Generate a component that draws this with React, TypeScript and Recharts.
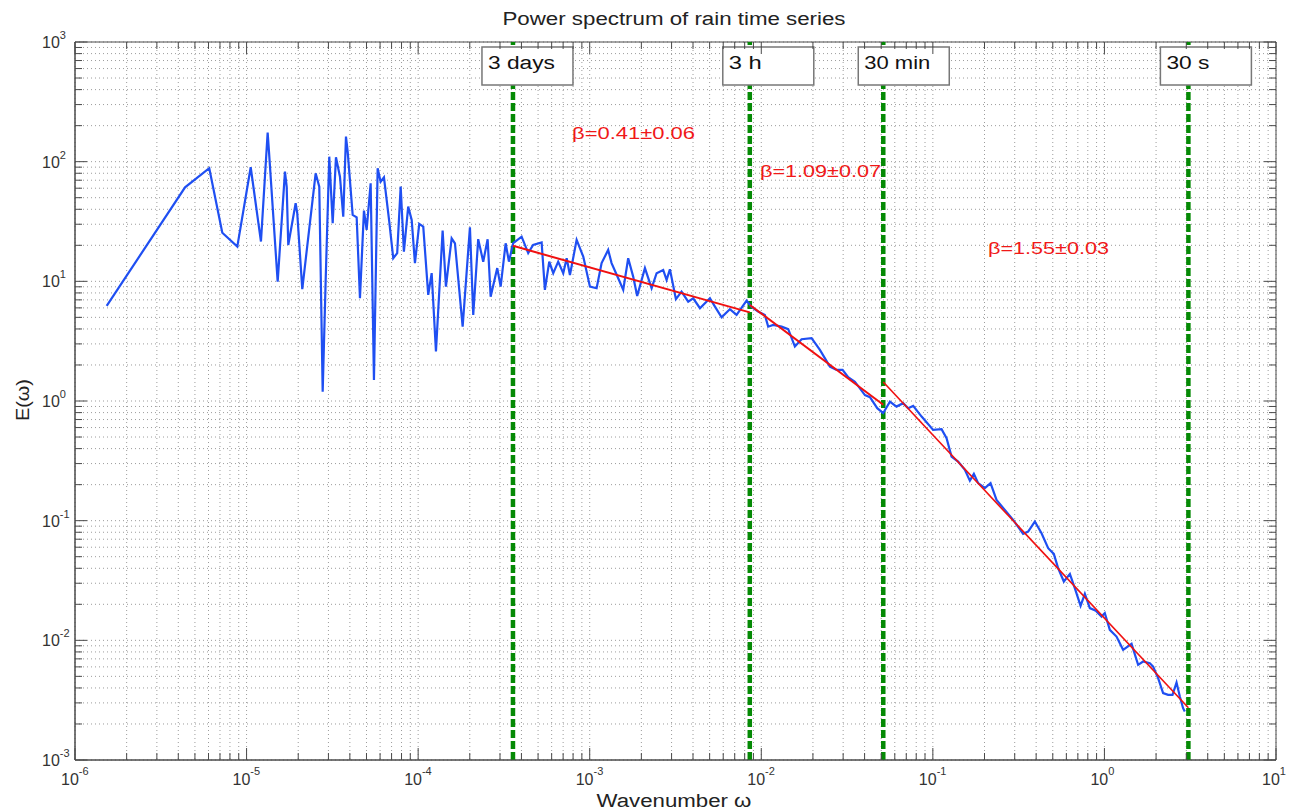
import {
	CartesianGrid,
	Customized,
	Line,
	LineChart,
	ReferenceArea,
	ReferenceLine,
	XAxis,
	YAxis,
} from "recharts";

// spectrum (wavenumber, energy)
const spectrumOmega = [
	1.53e-6, 4.38e-6, 6.06e-6, 7.22e-6, 8.83e-6, 1.057e-5, 1.213e-5, 1.327e-5, 1.351e-5, 1.518e-5,
	1.674e-5, 1.713e-5, 1.75e-5, 1.932e-5, 1.974e-5, 2.112e-5, 2.527e-5, 2.653e-5, 2.777e-5, 2.891e-5,
	3.034e-5, 3.176e-5, 3.319e-5, 3.502e-5, 3.66e-5, 3.796e-5, 3.884e-5, 4.153e-5, 4.382e-5, 4.58e-5,
	4.832e-5, 5.01e-5, 5.287e-5, 5.526e-5, 5.807e-5, 6.046e-5, 6.32e-5, 6.786e-5, 7.16e-5, 7.55e-5,
	7.91e-5, 8.26e-5, 8.75e-5, 9.17e-5, 9.58e-5, 1.015e-4, 1.071e-4, 1.145e-4, 1.199e-4, 1.27e-4,
	1.389e-4, 1.452e-4, 1.568e-4, 1.639e-4, 1.817e-4, 2.004e-4, 2.095e-4, 2.239e-4, 2.395e-4, 2.541e-4,
	2.646e-4, 2.891e-4, 3.026e-4, 3.236e-4, 3.382e-4, 3.583e-4,
	4.01e-4, 4.38e-4, 4.68e-4, 5.245e-4, 5.48e-4, 5.81e-4, 6.13e-4, 6.55e-4, 7.01e-4, 7.34e-4,
	7.67e-4, 8.39e-4, 9.17e-4, 1.003e-3, 1.097e-3, 1.173e-3, 1.281e-3, 1.341e-3, 1.466e-3, 1.568e-3,
	1.676e-3, 1.792e-3, 1.891e-3, 2.098e-3, 2.295e-3, 2.454e-3, 2.681e-3, 2.806e-3, 2.934e-3, 3.18e-3,
	3.43e-3, 3.75e-3, 4.01e-3, 4.39e-3, 5.02e-3, 5.37e-3, 5.87e-3, 6.56e-3, 7.18e-3, 8.21e-3,
	8.78e-3, 9.59e-3,
	1.049e-2, 1.097e-2, 1.173e-2, 1.313e-2, 1.435e-2, 1.57e-2, 1.717e-2, 1.964e-2, 2.196e-2, 2.511e-2,
	2.747e-2, 2.977e-2, 3.209e-2, 3.512e-2, 4.02e-2, 4.3e-2, 4.74e-2, 5.13e-2, 5.62e-2, 6.14e-2,
	6.71e-2, 7.18e-2, 7.68e-2, 8.6e-2,
	0.1004, 0.1124, 0.1202, 0.1285, 0.1404, 0.1537, 0.1643, 0.1734, 0.1837, 0.201,
	0.2169, 0.235, 0.2627, 0.2937, 0.3359, 0.3592, 0.393, 0.43, 0.47, 0.507,
	0.537, 0.58, 0.629, 0.672, 0.726, 0.769, 0.822, 0.891, 0.962, 1.005,
	1.075, 1.176, 1.285, 1.439, 1.572, 1.681, 1.839, 1.922, 2.056, 2.198,
	2.35, 2.494, 2.632, 2.751, 2.874, 2.94,
];

const spectrumPower = [
	6.23, 61.1, 88.1, 25.5, 19.5, 89.8, 21.5, 174.7, 121.2, 9.94,
	82.5, 61.8, 20.1, 44.9, 37.1, 8.59, 80.0, 61.8, 1.198, 10.27,
	110.1, 30.6, 108.8, 74.9, 34.7, 161.8, 121.2, 35.9, 34.3, 7.22,
	38.96, 26.9, 66.0, 1.5, 88.1, 68.1, 74.1, 31.5, 15.6, 17.2,
	61.8, 17.7, 42.1, 32.6, 14.2, 30.2, 28.6, 7.7, 11.7, 2.59,
	26.5, 9.03, 22.9, 20.8, 4.18, 28.3, 5.24, 22.5, 14.6, 22.5,
	7.45, 12.9, 9.03, 20.8, 14.6, 20.9,
	23.6, 17.2, 20.1, 21.1, 8.48, 14.6, 11.7, 14.6, 11.7, 15.6,
	11.3, 22.2, 16.1, 9.03, 8.76, 14.2, 18.3, 14.2, 10.6, 8.48,
	15.6, 10.95, 7.55, 12.9, 8.76, 11.7, 12.45, 10.27, 12.6, 7.09,
	8.2, 6.77, 7.22, 5.96, 7.22, 6.15, 5.01, 5.85, 5.24, 6.9,
	6.11, 5.58,
	5.24, 4.18, 4.32, 4.18, 3.98, 2.85, 3.28, 3.35, 2.67, 1.94,
	1.82, 1.82, 1.58, 1.45, 1.12, 1.076, 0.871, 0.791, 0.989, 0.898,
	0.959, 0.871, 0.91, 0.741,
	0.574, 0.581, 0.489, 0.343, 0.312, 0.266, 0.216, 0.246, 0.206, 0.187,
	0.206, 0.149, 0.123, 0.1016, 0.0776, 0.0811, 0.0983, 0.0786, 0.0589, 0.0528,
	0.0401, 0.031, 0.0359, 0.0273, 0.0194, 0.0245, 0.0186, 0.0177, 0.0158, 0.0169,
	0.01224, 0.01076, 0.00833, 0.00935, 0.00624, 0.00665, 0.00645, 0.00604, 0.00483, 0.00362,
	0.0035, 0.0035, 0.00444, 0.00339, 0.00271, 0.00254,
];

// scale breaks
const breakOmega = [3.57e-4, 8.57e-3, 5.14e-2, 3.086];
const breakLabels = ["3 days", "3 h", "30 min", "30 s"];

// power-law fits, one [start, end] pair per range
const fitOmega = [
	[3.57e-4, 8.57e-3],
	[8.57e-3, 5.14e-2],
	[5.14e-2, 3.086],
];
const fitPower = [
	[19.8, 5.5],
	[6.35, 0.93],
	[1.44, 0.00273],
];
const fitLabels = ["β=0.41±0.06", "β=1.09±0.07", "β=1.55±0.03"];

const xExponents = [-6, -5, -4, -3, -2, -1, 0, 1];
const yExponents = [-3, -2, -1, 0, 1, 2, 3];
const minorSteps = [2, 3, 4, 5, 6, 7, 8, 9];

const FONT = "'Liberation Sans', Arial, Helvetica, sans-serif";
const AXIS = "#4a4a4a";
const PLOT_W = 1201;
const PLOT_H = 718;

const logTicks = (exps: number[]) => {
	const out: number[] = [];
	exps.forEach((e, i) => {
		out.push(Math.pow(10, e));
		if (i < exps.length - 1) minorSteps.forEach((m) => out.push(m * Math.pow(10, e)));
	});
	return out;
};
const xTicks = logTicks(xExponents);
const yTicks = logTicks(yExponents);

const exponentOf = (v: number) => {
	const l = Math.log10(v);
	const r = Math.round(l);
	return Math.abs(l - r) < 1e-6 ? r : null;
};

const spectrum = spectrumOmega.map((w, i) => ({ w, E: spectrumPower[i] }));
const fits = fitOmega.map((ws, i) => ws.map((w, j) => ({ w, E: fitPower[i][j] })));

// per-box layout: left offset from the line, text width
const boxDx = [-31, -27, -25, -28];
const boxTextW = [67, 33, 66, 43];
const fitTextPos = [
	{ x: 572, y: 139, w: 123 },
	{ x: 760, y: 177, w: 121 },
	{ x: 988, y: 254, w: 121 },
];

function XTick(props: any) {
	const { x, y, payload } = props;
	const e = exponentOf(payload.value);
	const len = e !== null ? 12 : 7;
	return (
		<g>
			<line x1={x} x2={x} y1={y} y2={y - len} stroke={AXIS} />
			<line x1={x} x2={x} y1={y - PLOT_H} y2={y - PLOT_H + len} stroke={AXIS} />
			{e !== null && (
				<text x={x - 14} y={y + 25} fontSize={16} fill="#333" fontFamily={FONT}>
					10
					<tspan dy={-10} fontSize={11}>
						{e}
					</tspan>
				</text>
			)}
		</g>
	);
}

function YTick(props: any) {
	const { x, y, payload } = props;
	const e = exponentOf(payload.value);
	const len = e !== null ? 12 : 7;
	return (
		<g>
			<line x1={x} x2={x + len} y1={y} y2={y} stroke={AXIS} />
			<line x1={x + PLOT_W} x2={x + PLOT_W - len} y1={y} y2={y} stroke={AXIS} />
			{e !== null && (
				<text x={x - 33} y={y + 6} fontSize={16} fill="#333" fontFamily={FONT}>
					10
					<tspan dy={-9} fontSize={11}>
						{e}
					</tspan>
				</text>
			)}
		</g>
	);
}

function BoxLabel(props: any) {
	const { viewBox, text, dx, tw } = props;
	const x0 = viewBox.x + dx;
	const y0 = viewBox.y + 5;
	return (
		<g>
			<rect x={x0} y={y0} width={91} height={38} fill="#fff" stroke="#777" strokeWidth={1.5} />
			<text
				x={x0 + 6}
				y={y0 + 22}
				fontSize={18}
				fill="#111"
				fontFamily={FONT}
				textLength={tw}
				lengthAdjust="spacingAndGlyphs"
			>
				{text}
			</text>
		</g>
	);
}

function Annotations() {
	return (
		<g fontFamily={FONT}>
			<text
				x={674}
				y={25}
				textAnchor="middle"
				fontSize={18}
				fill="#222"
				textLength={343}
				lengthAdjust="spacingAndGlyphs"
			>
				Power spectrum of rain time series
			</text>
			{fitLabels.map((t, i) => (
				<text
					key={t}
					x={fitTextPos[i].x}
					y={fitTextPos[i].y}
					fontSize={17}
					fill="#f01818"
					textLength={fitTextPos[i].w}
					lengthAdjust="spacingAndGlyphs"
				>
					{t}
				</text>
			))}
			<text
				x={674}
				y={807}
				textAnchor="middle"
				fontSize={18}
				fill="#222"
				textLength={155}
				lengthAdjust="spacingAndGlyphs"
			>
				Wavenumber ω
			</text>
			<text
				x={29}
				y={400}
				textAnchor="middle"
				fontSize={18}
				fill="#222"
				transform="rotate(-90 29 400)"
				textLength={42}
				lengthAdjust="spacingAndGlyphs"
			>
				E(ω)
			</text>
		</g>
	);
}

export default function App() {
	return (
		<div style={{ position: "absolute", left: 0, top: 0, background: "#fff" }}>
			<LineChart
				width={1294}
				height={812}
				margin={{ top: 42, right: 18, bottom: 0, left: 0 }}
			>
				<CartesianGrid stroke="#9c9c9c" strokeDasharray="1 3" />
				<XAxis
					dataKey="w"
					type="number"
					scale="log"
					domain={[1e-6, 10]}
					ticks={xTicks}
					interval={0}
					allowDataOverflow
					height={52}
					tickSize={0}
					tickMargin={0}
					tickLine={false}
					axisLine={{ stroke: AXIS }}
					tick={<XTick />}
				/>
				<YAxis
					dataKey="E"
					type="number"
					scale="log"
					domain={[1e-3, 1e3]}
					ticks={yTicks}
					interval={0}
					allowDataOverflow
					width={75}
					tickSize={0}
					tickMargin={0}
					tickLine={false}
					axisLine={{ stroke: AXIS }}
					tick={<YTick />}
				/>
				<ReferenceArea
					x1={1e-6}
					x2={10}
					y1={1e-3}
					y2={1e3}
					fill="none"
					stroke={AXIS}
					strokeWidth={1}
				/>
				{breakOmega.map((w, i) => (
					<ReferenceLine
						key={breakLabels[i]}
						x={w}
						stroke="#058a05"
						strokeWidth={4.5}
						strokeDasharray="8 3"
						label={<BoxLabel text={breakLabels[i]} dx={boxDx[i]} tw={boxTextW[i]} />}
					/>
				))}
				<Line
					data={spectrum}
					dataKey="E"
					type="linear"
					stroke="#1f4ff2"
					strokeWidth={2.2}
					dot={false}
					isAnimationActive={false}
				/>
				{fits.map((f, i) => (
					<Line
						key={fitLabels[i]}
						data={f}
						dataKey="E"
						type="linear"
						stroke="#f01010"
						strokeWidth={i === 2 ? 1.6 : 2}
						dot={false}
						isAnimationActive={false}
					/>
				))}
				<Customized component={<Annotations />} />
			</LineChart>
		</div>
	);
}
